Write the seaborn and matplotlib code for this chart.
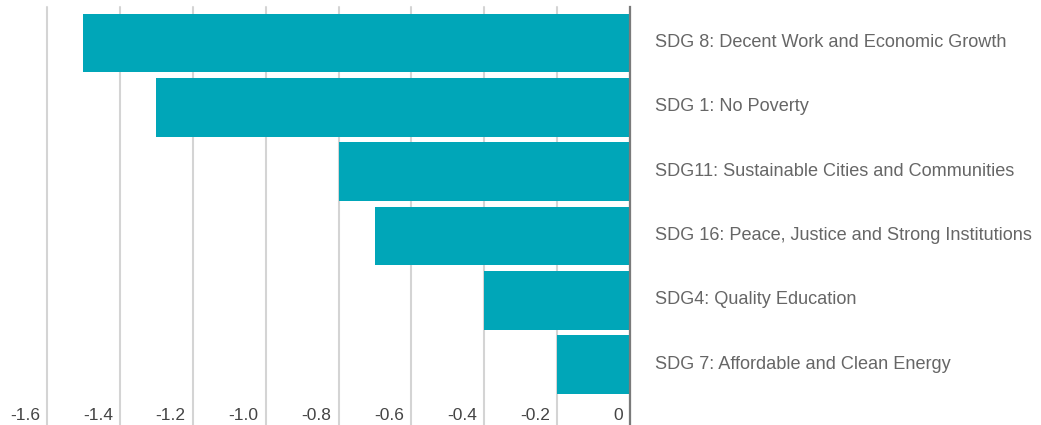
import pandas as pd
import seaborn as sns
import matplotlib as mpl
mpl.use("Agg")
import matplotlib.pyplot as plt
from matplotlib.transforms import ScaledTranslation


goals = [
    "SDG 8: Decent Work and Economic Growth",
    "SDG 1: No Poverty",
    "SDG11: Sustainable Cities and Communities",
    "SDG 16: Peace, Justice and Strong Institutions",
    "SDG4: Quality Education",
    "SDG 7: Affordable and Clean Energy",
]
scores = [-1.5, -1.3, -0.8, -0.7, -0.4, -0.2]
xticks = [-1.6, -1.4, -1.2, -1.0, -0.8, -0.6, -0.4, -0.2, 0]
xtick_labels = ["-1.6", "-1.4", "-1.2", "-1.0", "-0.8", "-0.6", "-0.4", "-0.2", "0"]

df = pd.DataFrame({"goal": goals, "score": scores})

sns.set_style("white")
plt.rcParams["font.family"] = ["Liberation Sans", "DejaVu Sans"]

fig = plt.figure(figsize=(10.41, 4.25), dpi=100)
ax = fig.add_axes([47 / 1041, 0, 583 / 1041, 418 / 425])

sns.barplot(data=df, x="score", y="goal", orient="h", color="#00A6B8",
            saturation=1, width=0.915, linewidth=0, ax=ax)

ax.set_xlim(-1.6, 0)
ax.set_ylim(5.94, -0.56)
ax.set_xlabel("")
ax.set_ylabel("")

ax.set_axisbelow(True)
ax.grid(axis="x", color="#d4d4d4", linewidth=1.5)
ax.grid(axis="y", visible=False)
for gl in ax.get_xgridlines():
    gl.set_clip_on(False)

for side in ["top", "left", "bottom"]:
    ax.spines[side].set_visible(False)
ax.spines["right"].set_color("#7a7a7a")
ax.spines["right"].set_linewidth(1.6)

ax.yaxis.tick_right()
ax.tick_params(axis="y", length=0, pad=18, labelsize=13.1, labelcolor="#666666")
up = ScaledTranslation(0, 2.5 / 100, fig.dpi_scale_trans)
for lbl in ax.get_yticklabels():
    lbl.set_transform(lbl.get_transform() + up)

ax.set_xticks(xticks)
ax.set_xticklabels(xtick_labels)
ax.tick_params(axis="x", length=0, pad=-12, labelsize=12.5, labelcolor="#444444")
shift = ScaledTranslation(-7 / 100, 0, fig.dpi_scale_trans)
for lbl in ax.get_xticklabels():
    lbl.set_horizontalalignment("right")
    lbl.set_transform(lbl.get_transform() + shift)

plt.savefig("out.png", dpi=100)
